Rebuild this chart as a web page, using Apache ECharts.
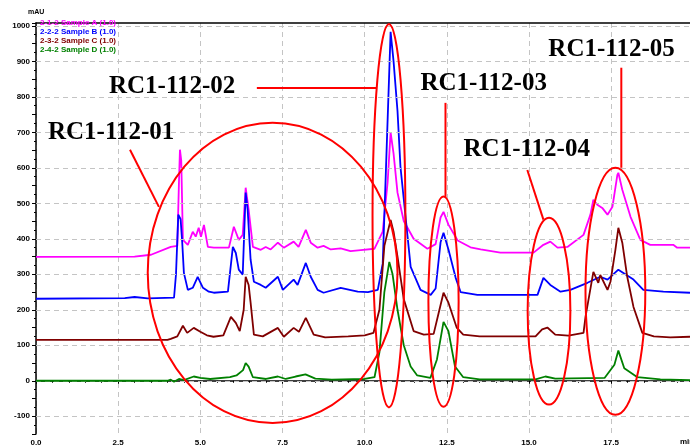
<!DOCTYPE html>
<html><head><meta charset="utf-8">
<script src="https://cdn.jsdelivr.net/npm/echarts@6/dist/echarts.min.js"></script>
<style>html,body{margin:0;padding:0;background:#fff}#c{width:690px;height:448px}</style>
</head><body><div id="c"></div>
<script>
// ---- data (time in min, signal in mAU) ----
const seriesNames = ['2-1-2 Sample A (1.0)', '2-2-2 Sample B (1.0)', '2-3-2 Sample C (1.0)', '2-4-2 Sample D (1.0)'];
const seriesColors = ['#ff00ff', '#0000ff', '#800000', '#008000'];

const magentaData = [[0,349],[3.0,350],[3.5,355],[4.1,377],[4.3,380],[4.35,560],[4.38,651],[4.42,620],[4.47,397],[4.62,383],[4.77,420],[4.86,406],[4.95,431],[5.02,406],[5.11,439],[5.23,377],[5.41,375],[5.87,375],[6.02,434],[6.17,397],[6.29,411],[6.38,544],[6.47,482],[6.60,377],[6.84,369],[6.99,377],[7.14,370],[7.36,389],[7.54,375],[7.84,392],[7.99,377],[8.21,425],[8.36,389],[8.57,375],[8.75,380],[8.97,370],[9.27,373],[9.57,365],[9.88,368],[10.3,372],[10.55,420],[10.70,560],[10.79,700],[10.88,640],[11.0,530],[11.19,450],[11.49,400],[11.91,372],[12.16,385],[12.31,460],[12.40,476],[12.55,440],[12.83,395],[13.22,376],[13.53,370],[14.13,361],[15.14,361],[15.44,383],[15.65,392],[15.87,375],[16.17,377],[16.66,411],[16.87,468],[16.96,510],[17.08,496],[17.23,487],[17.39,468],[17.54,490],[17.69,580],[17.72,586],[17.84,538],[18.09,462],[18.39,397],[18.69,383],[19.39,383],[19.51,375],[19.9,375]];

const blueData = [[0,231],[2.7,233],[3.0,236],[3.4,232],[4.2,234],[4.26,300],[4.33,468],[4.40,455],[4.45,389],[4.50,304],[4.62,256],[4.77,262],[4.92,293],[5.08,262],[5.26,251],[5.41,248],[5.84,251],[5.99,377],[6.08,360],[6.17,313],[6.29,299],[6.38,530],[6.44,482],[6.53,341],[6.63,279],[6.84,270],[6.99,262],[7.36,293],[7.51,256],[7.84,285],[7.96,270],[8.21,332],[8.36,293],[8.57,256],[8.75,248],[9.27,262],[9.79,251],[10.1,250],[10.4,256],[10.55,330],[10.65,600],[10.79,983],[10.88,900],[11.0,760],[11.09,603],[11.40,321],[11.70,256],[12.01,242],[12.16,260],[12.31,390],[12.40,417],[12.55,370],[12.77,290],[12.92,250],[13.43,242],[15.26,242],[15.44,290],[15.65,270],[15.96,251],[16.26,256],[16.78,276],[17.17,293],[17.39,285],[17.72,313],[18.18,285],[18.48,256],[19.09,251],[19.9,248]];

const darkRedData = [[0,115],[4.0,115],[4.1,118],[4.3,125],[4.47,155],[4.6,135],[4.8,149],[5.0,138],[5.2,128],[5.4,124],[5.7,128],[5.93,180],[6.08,163],[6.2,140],[6.32,200],[6.38,293],[6.47,270],[6.53,220],[6.63,130],[6.9,125],[7.36,149],[7.54,124],[7.84,149],[8.0,138],[8.21,177],[8.45,130],[8.8,122],[9.5,125],[10.0,128],[10.27,135],[10.45,200],[10.6,380],[10.79,453],[10.88,420],[11.0,350],[11.19,230],[11.49,140],[11.8,130],[12.1,132],[12.25,190],[12.40,248],[12.55,220],[12.8,150],[13.0,130],[13.5,125],[15.2,125],[15.4,145],[15.56,150],[15.8,130],[16.2,127],[16.66,135],[16.72,180],[16.96,307],[17.11,276],[17.17,298],[17.39,256],[17.48,279],[17.63,369],[17.72,431],[17.84,389],[17.99,293],[18.18,208],[18.45,135],[18.8,125],[19.3,122],[19.9,124]];

const greenData = [[0,0],[4.0,0],[4.1,3],[4.2,-3],[4.35,5],[4.5,2],[4.8,12],[5.0,8],[5.3,5],[5.9,10],[6.1,15],[6.3,30],[6.38,50],[6.47,40],[6.6,10],[7.0,5],[7.36,12],[7.6,5],[7.9,12],[8.2,18],[8.5,6],[9.0,3],[10.0,5],[10.3,10],[10.45,80],[10.6,250],[10.75,335],[10.85,300],[11.0,200],[11.19,100],[11.4,40],[11.6,15],[12.0,8],[12.2,60],[12.4,166],[12.55,140],[12.75,40],[13.0,10],[13.5,4],[15.2,4],[15.5,12],[15.8,6],[17.3,8],[17.6,45],[17.72,85],[17.9,35],[18.3,10],[19.0,4],[19.9,2]];

const yGridValues = [-100,0,100,200,300,400,500,600,700,800,900,1000];

// annotations (data units)
const ellipses = [[7.20,304,3.80,423],[10.74,465,0.50,540],[12.40,223,0.46,296],[15.61,196,0.65,263],[17.63,252,0.91,348]];
const leaders = [[2.86,651,3.74,490],[6.72,825,10.36,825],[12.46,783,12.46,518],[14.95,594,15.44,454],[17.81,882,17.81,600]];
const labelTexts = ['RC1-112-01','RC1-112-02','RC1-112-03','RC1-112-04','RC1-112-05'];
const labelAnchors = [[0.365,699],[2.22,828],[11.70,837],[13.01,651],[15.59,932]];

const chart = echarts.init(document.getElementById('c'), null, {renderer:'canvas'});
const axisFont = {fontSize:8, fontWeight:'bold', color:'#000', fontFamily:'Liberation Sans'};
const dataSets = [magentaData, blueData, darkRedData, greenData];

const option = {
  animation:false,
  backgroundColor:'#fff',
  grid:{left:36, right:0, top:23, bottom:14, containLabel:false},
  legend:{
    orient:'vertical', left:34, top:18, itemGap:0, itemWidth:0, itemHeight:0,
    selectedMode:false, padding:0,
    textStyle:{fontSize:8, fontWeight:'bold', lineHeight:9, fontFamily:'Liberation Sans'},
    data: seriesNames.map((n,i)=>({name:n, textStyle:{color:seriesColors[i]}}))
  },
  xAxis:[{
    type:'value', min:0, max:19.9, interval:2.5,
    axisLine:{show:true, lineStyle:{color:'#000', width:1.5}},
    axisTick:{show:true, length:3, lineStyle:{color:'#000'}},
    minorTick:{show:true, splitNumber:5, length:2, lineStyle:{color:'#000'}},
    axisLabel:{...axisFont, margin:5, showMaxLabel:false, formatter:v=>v.toFixed(1)},
    splitLine:{show:true, lineStyle:{color:'#c4c4c4', type:[5,4], width:1}}
  },{
    type:'value', min:0, max:19.9, position:'top',
    axisLine:{show:true, lineStyle:{color:'#000', width:1.5}},
    axisTick:{show:false}, axisLabel:{show:false}, splitLine:{show:false}
  }],
  yAxis:{
    type:'value', min:-150, max:1008, interval:50,
    axisLine:{show:true, lineStyle:{color:'#000', width:1.5}},
    axisTick:{show:true, length:4, lineStyle:{color:'#000'}},
    minorTick:{show:true, splitNumber:2, length:2, lineStyle:{color:'#000'}},
    axisLabel:{...axisFont, margin:6, showMaxLabel:false, formatter:v=> (Math.round(v)%100===0 ? String(Math.round(v)) : '')},
    splitLine:{show:false}
  },
  graphic:[
    {type:'text', left:28, top:9, style:{text:'mAU', fontSize:7, fontWeight:'bold', fill:'#000', fontFamily:'Liberation Sans'}},
    {type:'text', left:680, top:438, style:{text:'min', fontSize:8, fontWeight:'bold', fill:'#000', fontFamily:'Liberation Sans'}}
  ],
  series:[
    {type:'line', name:'grid', data:[], z:1, silent:true,
     markLine:{silent:true, symbol:'none', label:{show:false},
       lineStyle:{color:'#c4c4c4', type:[5,4], width:1},
       data: yGridValues.map(v=>({yAxis:v}))}},
    ...dataSets.map((d,i)=>({
      type:'line', name:seriesNames[i], data:d, z:3+i, showSymbol:false, symbol:'none',
      lineStyle:{color:seriesColors[i], width:1.8}, itemStyle:{color:seriesColors[i]}
    })),
    {type:'custom', z:10, silent:true, clip:false, data:ellipses, encode:{x:0,y:1},
     renderItem:(p,api)=>{
       const c = api.coord([api.value(0), api.value(1)]);
       const s = api.size([api.value(2), api.value(3)]);
       return {type:'ellipse', shape:{cx:c[0], cy:c[1], rx:s[0], ry:s[1]}, style:{fill:null, stroke:'#ff0000', lineWidth:2}};
     }},
    {type:'custom', z:10, silent:true, clip:false, data:leaders, encode:{x:[0,2],y:[1,3]},
     renderItem:(p,api)=>{
       const a = api.coord([api.value(0), api.value(1)]);
       const b = api.coord([api.value(2), api.value(3)]);
       return {type:'line', shape:{x1:a[0], y1:a[1], x2:b[0], y2:b[1]}, style:{stroke:'#ff0000', lineWidth:2}};
     }},
    {type:'custom', z:11, silent:true, clip:false, data:labelAnchors, encode:{x:0,y:1},
     renderItem:(p,api)=>{
       const a = api.coord([api.value(0), api.value(1)]);
       return {type:'text', x:a[0], y:a[1], style:{text:labelTexts[p.dataIndex], fill:'#000', fontSize:25, fontWeight:'bold', fontFamily:'Liberation Serif', align:'left', verticalAlign:'middle'}};
     }}
  ]
};
chart.setOption(option);
</script></body></html>
